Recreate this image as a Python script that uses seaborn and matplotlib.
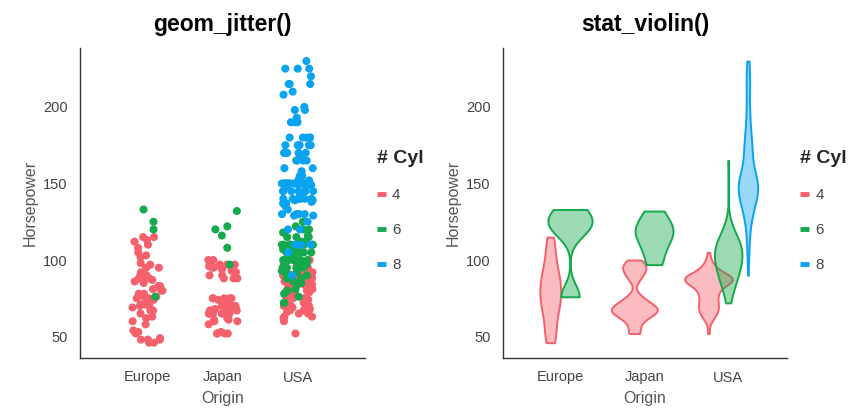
import numpy as np
import pandas as pd
import matplotlib
matplotlib.use("Agg")
import matplotlib.pyplot as plt
from matplotlib.lines import Line2D
import seaborn as sns

# ---- data: horsepower per origin and cylinder count ----
origins = ["Europe", "Japan", "USA"]
cyl_levels = ["4", "6", "8"]
cyl_colors = ["#F4606C", "#14A94C", "#0AA3F2"]

hp_europe_4 = [46, 46, 48, 48, 48, 49, 52, 53, 54, 58, 60, 62, 63, 65, 67, 67,
               69, 70, 70, 71, 71, 74, 74, 75, 75, 76, 77, 78, 78, 80, 80, 81,
               83, 83, 85, 86, 87, 88, 88, 88, 90, 90, 90, 92, 95, 95, 97, 98,
               102, 103, 105, 108, 110, 112, 113, 115, 115]
hp_europe_6 = [76, 120, 125, 133]
hp_japan_4 = [52, 52, 52, 52, 53, 58, 60, 60, 61, 61, 62, 65, 65, 65, 65, 65,
              65, 66, 67, 67, 67, 67, 67, 67, 68, 68, 68, 68, 69, 69, 70, 70,
              70, 70, 70, 72, 74, 75, 75, 75, 75, 75, 88, 88, 88, 90, 90, 92,
              93, 94, 95, 95, 95, 96, 97, 97, 97, 97, 100, 100]
hp_japan_6 = [97, 108, 116, 120, 122, 132]
hp_usa_4 = [52, 60, 62, 63, 63, 65, 65, 66, 67, 67, 68, 69, 70, 70, 70, 71,
            72, 72, 74, 75, 75, 75, 76, 78, 78, 79, 80, 80, 80, 81, 82, 83,
            84, 84, 84, 84, 85, 85, 85, 85, 86, 86, 86, 86, 88, 88, 88, 88,
            88, 88, 88, 88, 88, 88, 88, 88, 90, 90, 90, 90, 90, 90, 90, 92,
            92, 92, 94, 95, 96, 96, 98, 100, 105]
hp_usa_6 = [72, 72, 76, 78, 80, 81, 84, 85, 85, 86, 88, 88, 88, 90, 90, 90,
            90, 92, 93, 95, 95, 95, 95, 97, 97, 98, 100, 100, 100, 100, 100,
            100, 100, 100, 102, 103, 105, 105, 105, 105, 105, 105, 107, 108,
            110, 110, 110, 110, 110, 110, 110, 110, 112, 112, 115, 115, 115,
            116, 118, 120, 120, 122, 125, 165]
hp_usa_8 = [230, 225, 225, 225, 220, 215, 215, 215, 210, 208, 200, 198, 198,
            193, 190, 190, 190, 180, 180, 180, 180, 180, 175, 175, 175, 175,
            175, 170, 170, 170, 170, 170, 167, 165, 165, 165, 160, 160, 158,
            155, 155, 153, 152, 152, 150, 150, 150, 150, 150, 150, 150, 150,
            150, 150, 150, 150, 150, 150, 150, 150, 150, 150, 150, 150, 149,
            148, 148, 145, 145, 145, 145, 145, 145, 145, 142, 140, 140, 140,
            140, 140, 140, 140, 139, 139, 138, 137, 137, 135, 133, 130, 130,
            130, 130, 130, 129, 129, 125, 120, 120, 110, 110, 110, 105, 90]

groups = [
    ("Europe", "4", hp_europe_4), ("Europe", "6", hp_europe_6),
    ("Japan", "4", hp_japan_4), ("Japan", "6", hp_japan_6),
    ("USA", "4", hp_usa_4), ("USA", "6", hp_usa_6), ("USA", "8", hp_usa_8),
]

# dodge positions: spread only the cylinder groups present at each origin
dodge_step = 0.235
rows = []
for origin in origins:
    present = [g for g in groups if g[0] == origin]
    k = len(present)
    for j, (o, c, vals) in enumerate(present):
        xpos = origins.index(o) + (j - (k - 1) / 2) * dodge_step
        for v in vals:
            rows.append({"Origin": o, "Cyl": c, "Horsepower": v, "xpos": xpos})
df = pd.DataFrame(rows)


def robust_bw(kde):
    """Normal-reference bandwidth with a MAD-based spread, as a kde factor."""
    x = kde.dataset.ravel()
    sd = np.std(x, ddof=1)
    sig = np.median(np.abs(x - np.median(x))) / 0.6745
    if sig <= 0:
        sig = sd
    return sig * (4 / (3 * len(x))) ** 0.2 / sd


def equalize_violin_areas(ax, max_width):
    """Rescale the trimmed violins so every drawn shape has the same area."""
    shapes = []
    for coll in ax.collections:
        v = np.asarray(coll.get_paths()[0].vertices, dtype=float)
        x, y = v[:, 0], v[:, 1]
        area = 0.5 * abs(np.dot(x, np.roll(y, 1)) - np.dot(y, np.roll(x, 1)))
        center = 0.5 * (x.min() + x.max())
        shapes.append((coll, v, center, area, x.max() - x.min()))
    rel = [w / a for _, _, _, a, w in shapes]
    gain = max_width / max(rel)
    for coll, v, center, area, w in shapes:
        scale = gain / area
        nv = v.copy()
        nv[:, 0] = center + (v[:, 0] - center) * scale
        coll.set_verts([nv])


sns.set_theme(style="white")
plt.rcParams["font.family"] = ["Liberation Sans", "DejaVu Sans"]

fig = plt.figure(figsize=(8.59, 4.09), dpi=100)
ax1 = fig.add_axes([80 / 859, 1 - 358 / 409, 285 / 859, 310 / 409])
ax2 = fig.add_axes([503 / 859, 1 - 358 / 409, 284 / 859, 310 / 409])

palette = dict(zip(cyl_levels, cyl_colors))

# ---- left: jittered points ----
np.random.seed(3)
sns.stripplot(data=df, x="Origin", y="Horsepower", hue="Cyl",
              order=origins, hue_order=cyl_levels, palette=palette,
              jitter=0.21, size=5.8, linewidth=0, dodge=False,
              legend=False, ax=ax1)
ax1.set_xlim(-0.9, 2.9)

# ---- right: violins ----
sns.violinplot(data=df, x="xpos", y="Horsepower", hue="Cyl",
               hue_order=cyl_levels, palette=palette, native_scale=True,
               dodge=False, inner=None, cut=0, density_norm="area",
               common_norm=True, width=2.4, bw_method=robust_bw,
               saturation=1, linewidth=1.3, legend=False, ax=ax2)
equalize_violin_areas(ax2, max_width=0.57)
for coll in ax2.collections:
    fc = coll.get_facecolor()[0]
    coll.set_facecolor((fc[0], fc[1], fc[2], 0.42))
    coll.set_edgecolor((fc[0], fc[1], fc[2], 1.0))
    coll.set_linewidth(1.4)
ax2.set_xticks([0, 1, 2])
ax2.set_xticklabels(origins)
ax2.set_xlim(-0.68, 2.70)

titles = ["geom_jitter()", "stat_violin()"]
legend_x = [0.993, 0.997]
for ax, title, lx in zip([ax1, ax2], titles, legend_x):
    ax.set_ylim(36, 238.5)
    ax.set_yticks([50, 100, 150, 200])
    ax.set_title(title, fontsize=16.5, fontweight="bold", color="black", pad=12)
    ax.set_xlabel("Origin", fontsize=11.5, color="#555555", labelpad=5)
    ax.set_ylabel("Horsepower", fontsize=11.5, color="#555555", labelpad=4)
    ax.tick_params(axis="x", direction="in", length=3, width=0.6,
                   colors="#999999", labelcolor="#444444", labelsize=10.5, pad=9)
    ax.tick_params(axis="y", length=0, labelcolor="#444444", labelsize=10.5, pad=9)
    for side in ["top", "right"]:
        ax.spines[side].set_visible(False)
    for side in ["left", "bottom"]:
        ax.spines[side].set_color("#333333")
        ax.spines[side].set_linewidth(1.0)
    handles = [Line2D([0], [0], color=c, lw=3.5, solid_capstyle="butt")
               for c in cyl_colors]
    leg = ax.legend(handles, cyl_levels, title="# Cyl", loc="upper left",
                    bbox_to_anchor=(lx, 0.716), frameon=False,
                    handlelength=0.6, handletextpad=0.4, labelspacing=1.38,
                    fontsize=11, title_fontproperties={"weight": "bold", "size": 14})
    leg._legend_box.align = "left"
    for t in leg.get_texts():
        t.set_color("#444444")

fig.savefig("out.png", dpi=100)
